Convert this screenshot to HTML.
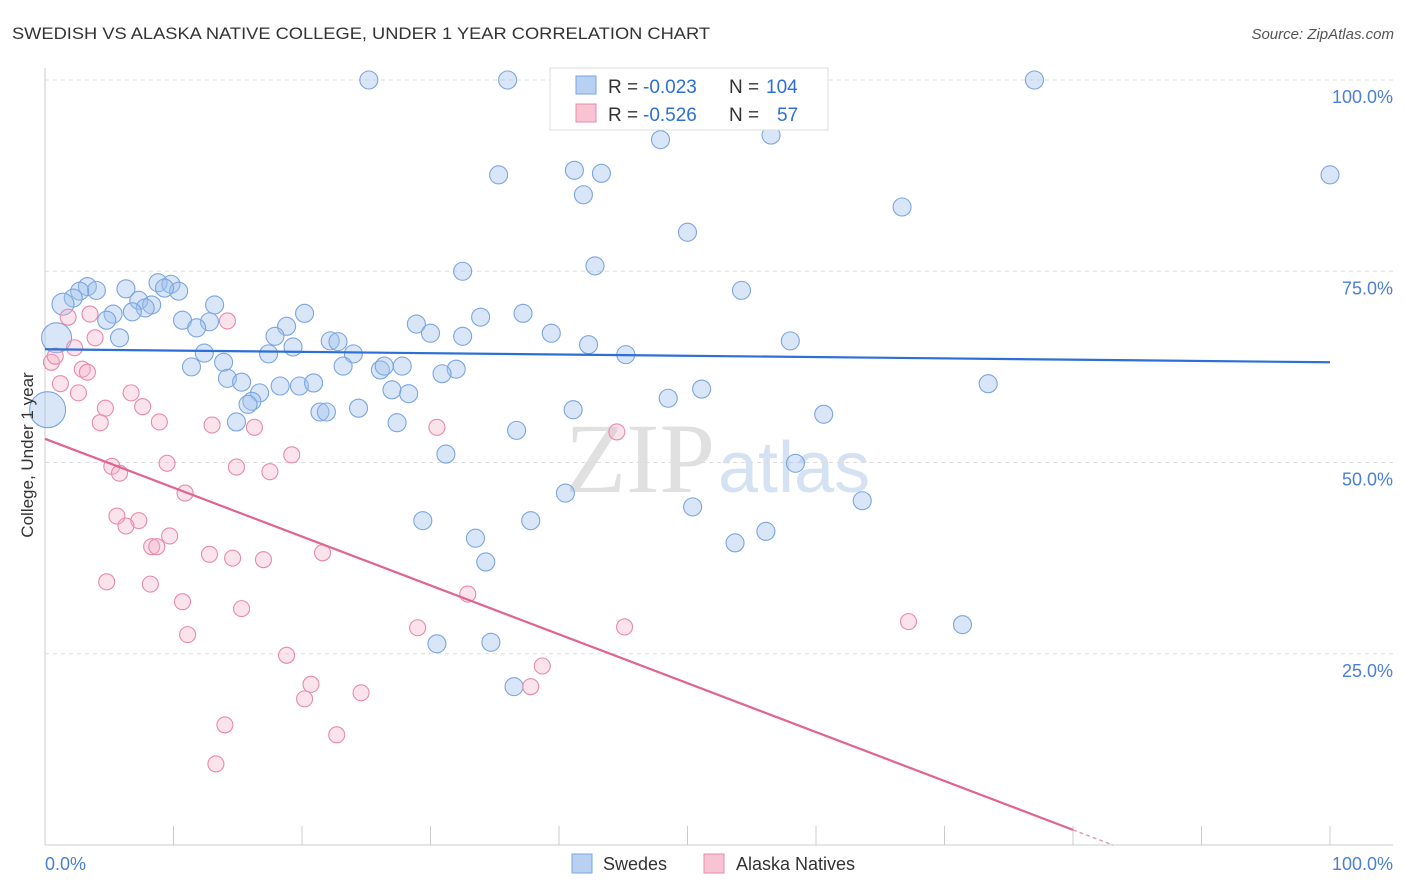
<!DOCTYPE html>
<html><head><meta charset="utf-8"><style>
body{margin:0;background:#fff;font-family:"Liberation Sans",sans-serif;}
svg{display:block}
</style></head><body>
<svg width="1406" height="892">
<text x="12" y="39" font-size="17" fill="#333" textLength="698" lengthAdjust="spacingAndGlyphs">SWEDISH VS ALASKA NATIVE COLLEGE, UNDER 1 YEAR CORRELATION CHART</text>
<text x="1394" y="39" font-size="15" fill="#555" font-style="italic" text-anchor="end">Source: ZipAtlas.com</text>
<text x="715" y="492" font-size="100" fill="#e0e0e0" font-family="Liberation Serif" text-anchor="end">ZIP</text>
<text x="718" y="492" font-size="72" fill="#d5e2f4">atlas</text>
<g id="grid"></g>
<g id="axes"></g>
<g id="pts"></g>
<g id="trends"></g>
<text x="33" y="455" font-size="17" fill="#333" text-anchor="middle" transform="rotate(-90 33 455)">College, Under 1 year</text>
<text x="45" y="870" font-size="18" fill="#4a7fd6">0.0%</text>
<text x="1393" y="870" font-size="18" fill="#4a7fd6" text-anchor="end">100.0%</text>
<g>
<rect x="550" y="68" width="278" height="62" fill="#fff" stroke="#ddd"/>
<rect x="576" y="76" width="20" height="18" fill="#b8d0f2" stroke="#7ba5e0"/>
<rect x="576" y="104" width="20" height="18" fill="#f8c4d4" stroke="#e88aa8"/>
<text x="608" y="93" font-size="19" fill="#333">R =</text>
<text x="643" y="93" font-size="19" fill="#2c6fd6">-0.023</text>
<text x="729" y="93" font-size="19" fill="#333">N =</text>
<text x="766" y="93" font-size="19" fill="#2c6fd6">104</text>
<text x="608" y="121" font-size="19" fill="#333">R =</text>
<text x="643" y="121" font-size="19" fill="#2c6fd6">-0.526</text>
<text x="729" y="121" font-size="19" fill="#333">N =</text>
<text x="777" y="121" font-size="19" fill="#2c6fd6">57</text>
</g>
<g>
<rect x="572" y="854" width="20" height="19" fill="#b8d0f2" stroke="#7ba5e0"/>
<text x="603" y="870" font-size="18" fill="#333">Swedes</text>
<rect x="704" y="854" width="20" height="19" fill="#f8c4d4" stroke="#e88aa8"/>
<text x="736" y="870" font-size="18" fill="#333">Alaska Natives</text>
</g>
</svg>
<script>
const yTicks=[25,50,75,100];
const yTickLabels=["25.0%","50.0%","75.0%","100.0%"];
const xTicks=[0,10,20,30,40,50,60,70,80,90,100];
const blueX=[25.2,36.0,77.0,47.9,56.5,100,35.3,41.2,43.3,41.9,66.7,50.0,32.5,42.8,54.2,8.8,9.8,3.3,6.3,4.0,10.4,9.3,2.7,2.2,7.3,8.3,7.8,1.4,13.2,20.2,6.8,5.3,10.7,12.8,4.8,33.9,37.2,11.8,18.8,28.9,30.0,17.9,32.5,39.4,22.2,22.8,5.8,0.9,42.3,58.0,19.3,12.4,17.4,24.0,45.2,11.4,13.9,23.2,26.1,26.4,27.8,32.0,30.9,14.2,15.3,18.3,19.8,20.9,73.4,51.1,27.0,28.3,16.7,16.1,15.8,48.5,0.2,21.4,21.9,24.4,41.1,60.6,14.9,27.4,36.7,31.2,58.4,40.5,63.6,50.4,29.4,37.8,33.5,56.1,53.7,34.3,71.4,30.5,34.7,36.5];
const blueY=[100,100,100,92.2,92.8,87.6,87.6,88.2,87.8,85.0,83.4,80.1,75.0,75.7,72.5,73.5,73.3,73.0,72.7,72.5,72.4,72.8,72.4,71.5,71.2,70.6,70.2,70.7,70.6,69.5,69.7,69.4,68.6,68.4,68.6,69.0,69.5,67.6,67.8,68.1,66.9,66.5,66.5,66.9,65.9,65.8,66.3,66.3,65.4,65.9,65.1,64.3,64.2,64.2,64.1,62.5,63.1,62.6,62.1,62.6,62.6,62.2,61.6,61.0,60.5,60.0,60.0,60.4,60.3,59.6,59.5,59.0,59.1,58.0,57.6,58.4,56.9,56.6,56.6,57.1,56.9,56.3,55.3,55.2,54.2,51.1,49.9,46.0,45.0,44.2,42.4,42.4,40.1,41.0,39.5,37.0,28.8,26.3,26.5,20.7];
const blueR=[9,9,9,9,9,9,9,9,9,9,9,9,9,9,9,9,9,9,9,9,9,9,9,9,9,9,9,11,9,9,9,9,9,9,9,9,9,9,9,9,9,9,9,9,9,9,9,15,9,9,9,9,9,9,9,9,9,9,9,9,9,9,9,9,9,9,9,9,9,9,9,9,9,9,9,9,18,9,9,9,9,9,9,9,9,9,9,9,9,9,9,9,9,9,9,9,9,9,9,9];
const pinkX=[1.8,3.5,14.2,3.9,0.5,0.8,2.3,2.9,3.3,1.2,2.6,6.7,4.7,7.6,4.3,8.9,13.0,16.3,30.5,44.5,19.2,9.5,5.2,5.8,14.9,17.5,10.9,5.6,7.3,6.3,9.7,8.3,8.7,12.8,14.6,17.0,21.6,4.8,8.2,32.9,10.7,15.3,11.1,29.0,45.1,67.2,18.8,38.7,20.7,20.2,24.6,37.8,14.0,22.7,13.3];
const pinkY=[69.0,69.4,68.5,66.3,63.1,63.9,65.0,62.2,61.8,60.3,59.1,59.1,57.1,57.3,55.2,55.3,54.9,54.6,54.6,54.0,51.0,49.9,49.5,48.6,49.4,48.8,46.0,43.0,42.4,41.7,40.4,39.0,39.0,38.0,37.5,37.3,38.2,34.4,34.1,32.8,31.8,30.9,27.5,28.4,28.5,29.2,24.8,23.4,21.0,19.1,19.9,20.7,15.7,14.4,10.6];
const blueTrend=[64.8,63.1];   // y at x=0 and x=100
const pinkTrend=[53.1,-0.639]; // intercept, slope
const X=v=>45+v*12.85, Y=v=>845-v*7.65;
const NS="http://www.w3.org/2000/svg";
function mk(t,a,p){const e=document.createElementNS(NS,t);for(const k in a)e.setAttribute(k,a[k]);p.appendChild(e);return e;}
const grid=document.getElementById('grid'),axes=document.getElementById('axes'),pts=document.getElementById('pts'),tr=document.getElementById('trends');
mk('line',{x1:45,x2:1393,y1:Y(100),y2:Y(100),stroke:'#ddd','stroke-dasharray':'4 4'},grid);
yTicks.forEach((t,i)=>{
 const l=mk('line',{x1:45,x2:1393,y1:Y(t),y2:Y(t),stroke:'#ddd','stroke-dasharray':'4 4'},grid);
 
 
 const tx=mk('text',{x:1393,y:Y(t)+23,'font-size':18,fill:'#4a7fd6','text-anchor':'end'},grid);
 tx.textContent=yTickLabels[i];
 
 
});
mk('line',{x1:45,x2:45,y1:68,y2:845,stroke:'#ccc'},axes);
mk('line',{x1:45,x2:1393,y1:845,y2:845,stroke:'#ccc'},axes);
xTicks.forEach(t=>{const l=mk('line',{x1:X(t),x2:X(t),y1:826,y2:845,stroke:'#ccc'},axes);
 
 });
blueX.forEach((v,i)=>{const c=mk('circle',{cx:X(v),cy:Y(blueY[i]),r:blueR[i]||9,fill:'rgba(160,192,236,0.4)',stroke:'#7ba5e0','stroke-width':1.1},pts);
 
 });
pinkX.forEach((v,i)=>{const c=mk('circle',{cx:X(v),cy:Y(pinkY[i]),r:8,fill:'rgba(244,176,200,0.35)',stroke:'#e88aa8','stroke-width':1.1},pts);
 
 });
const bl=mk('line',{x1:X(0),y1:Y(blueTrend[0]),x2:X(100),y2:Y(blueTrend[1]),stroke:'#2c6fd6','stroke-width':2.2},tr);


const xz=-pinkTrend[0]/pinkTrend[1];
const pl=mk('line',{x1:X(0),y1:Y(pinkTrend[0]),x2:X(80),y2:Y(pinkTrend[0]+pinkTrend[1]*80),stroke:'#e0648f','stroke-width':2.2},tr);


const pd=mk('line',{x1:X(80),y1:Y(pinkTrend[0]+pinkTrend[1]*80),x2:X(xz),y2:Y(0),stroke:'#e0a0b8','stroke-width':1.5,'stroke-dasharray':'4 3'},tr);


</script>
</body></html>
